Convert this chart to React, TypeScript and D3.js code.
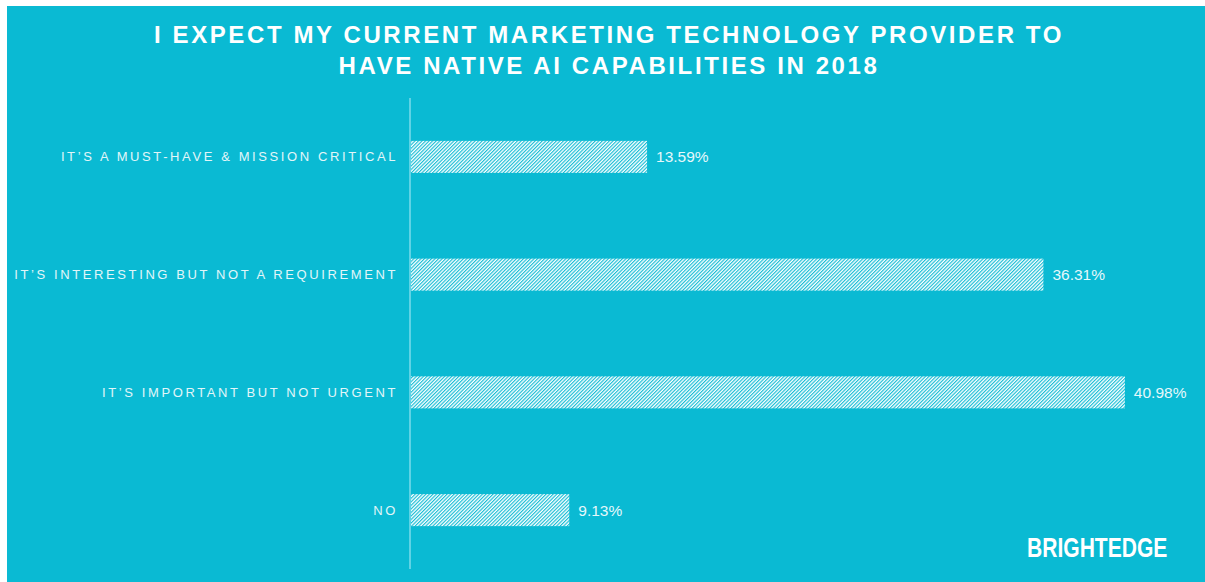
import { useEffect, useRef } from "react";
import * as d3 from "d3";

const categories = [
  "IT’S A MUST-HAVE & MISSION CRITICAL",
  "IT’S INTERESTING BUT NOT A REQUIREMENT",
  "IT’S IMPORTANT BUT NOT URGENT",
  "NO",
];
const values = [13.59, 36.31, 40.98, 9.13];
const titleLines = [
  "I EXPECT MY CURRENT MARKETING TECHNOLOGY PROVIDER TO",
  "HAVE NATIVE AI CAPABILITIES IN 2018",
];

const W = 1205;
const H = 582;
const BG = "#0abad3";

export default function App() {
  const svgRef = useRef<SVGSVGElement>(null);

  useEffect(() => {
    const svg = d3.select(svgRef.current);
    svg.selectAll("*").remove();

    const defs = svg.append("defs");
    const pat = defs
      .append("pattern")
      .attr("id", "hatch")
      .attr("patternUnits", "userSpaceOnUse")
      .attr("width", 2.5)
      .attr("height", 2.5)
      .attr("patternTransform", "rotate(45)");
    pat.append("rect").attr("width", 2.5).attr("height", 2.5).attr("fill", "#ffffff");
    pat
      .append("line")
      .attr("x1", 0.6)
      .attr("x2", 0.6)
      .attr("y1", 0)
      .attr("y2", 2.5)
      .attr("stroke", BG)
      .attr("stroke-width", 1.1);

    // panel
    svg.append("rect").attr("width", W).attr("height", H).attr("fill", "#ffffff");
    svg
      .append("rect")
      .attr("x", 7)
      .attr("y", 6)
      .attr("width", W - 7)
      .attr("height", H - 6)
      .attr("fill", BG);

    // title
    svg
      .append("g")
      .selectAll("text")
      .data(titleLines)
      .enter()
      .append("text")
      .attr("x", 609)
      .attr("y", (_d, i) => 43 + i * 31)
      .attr("text-anchor", "middle")
      .attr("font-family", "Liberation Sans, Arial, sans-serif")
      .attr("font-weight", "bold")
      .attr("font-size", 24)
      .attr("letter-spacing", 2.6)
      .attr("fill", "#ffffff")
      .text((d) => d);

    const x = d3.scaleLinear().domain([0, 45]).range([410, 410 + 785]);
    const y = d3
      .scaleBand<string>()
      .domain(categories)
      .range([98, 569])
      .paddingInner(0.728)
      .paddingOuter(0.364);

    const data = categories.map((c, i) => ({ c, v: values[i] }));

    svg
      .append("g")
      .selectAll("rect")
      .data(data)
      .enter()
      .append("rect")
      .attr("x", x(0))
      .attr("y", (d) => y(d.c) || 0)
      .attr("width", (d) => x(d.v) - x(0))
      .attr("height", y.bandwidth())
      .attr("fill", "url(#hatch)");

    // axis line
    svg
      .append("line")
      .attr("x1", x(0))
      .attr("x2", x(0))
      .attr("y1", 98)
      .attr("y2", 569)
      .attr("stroke", "#5fd3e5")
      .attr("stroke-width", 2);

    // category labels
    svg
      .append("g")
      .selectAll("text")
      .data(data)
      .enter()
      .append("text")
      .attr("x", 398)
      .attr("y", (d) => (y(d.c) || 0) + y.bandwidth() / 2)
      .attr("dy", "0.35em")
      .attr("text-anchor", "end")
      .attr("font-family", "Liberation Sans, Arial, sans-serif")
      .attr("font-size", 13)
      .attr("letter-spacing", 2.6)
      .attr("fill", "#e2f6f9")
      .text((d) => d.c);

    // value labels
    svg
      .append("g")
      .selectAll("text")
      .data(data)
      .enter()
      .append("text")
      .attr("x", (d) => x(d.v) + 9)
      .attr("y", (d) => (y(d.c) || 0) + y.bandwidth() / 2)
      .attr("dy", "0.35em")
      .attr("font-family", "Liberation Sans, Arial, sans-serif")
      .attr("font-size", 15.5)
      .attr("fill", "#e6f8fb")
      .text((d) => d.v.toFixed(2) + "%");

    // logo
    svg
      .append("text")
      .attr("transform", "translate(1027,557) scale(0.78,1)")
      .attr("font-family", "Liberation Sans, Arial, sans-serif")
      .attr("font-weight", "bold")
      .attr("font-size", 27)
      .attr("fill", "#ffffff")
      .text("BRIGHTEDGE");
  }, []);

  return (
    <svg
      ref={svgRef}
      width={W}
      height={H}
      style={{ position: "fixed", left: 0, top: 0 }}
    />
  );
}
